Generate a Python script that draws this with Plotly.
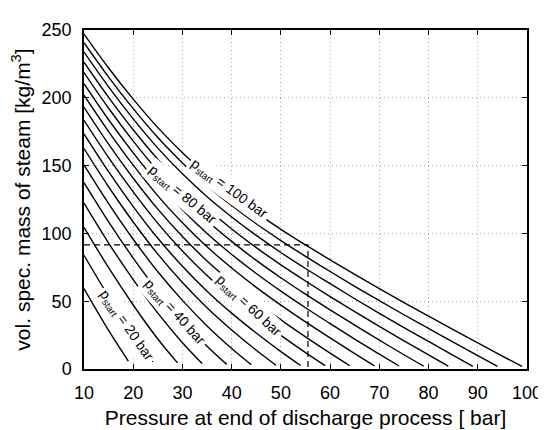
import plotly.graph_objects as go

# ---- data ----
p_start_values = [20, 25, 30, 35, 40, 45, 50, 55, 60, 65, 70, 75, 80, 85, 90, 95, 100]
p_end_grid = [10, 15, 20, 25, 30, 35, 40, 45, 50, 55, 60, 65, 70, 75, 80, 85, 90, 95]

# vol. spec. steam mass [kg/m^3] at p_end = 10, 15, ... and at the last point p_start - 1
m_p20 = [59.3, 28.4, 5.8]
m_p25 = [83.9, 53.5, 25.5, 5.2]
m_p30 = [104.5, 74.7, 47.2, 22.1, 4.5]
m_p35 = [122.3, 92.9, 65.9, 41.2, 19.4, 4.0]
m_p40 = [137.4, 108.5, 81.8, 57.4, 36.0, 16.8, 3.4]
m_p45 = [150.5, 122.0, 95.7, 71.7, 50.6, 31.7, 15.1, 3.1]
m_p50 = [162.6, 134.4, 108.4, 84.7, 63.8, 45.2, 28.8, 13.8, 2.8]
m_p55 = [173.4, 145.5, 119.8, 96.4, 75.8, 57.4, 41.2, 26.5, 12.8, 2.6]
m_p60 = [183.4, 155.9, 130.6, 107.4, 87.0, 68.9, 52.9, 38.3, 24.8, 12.1, 2.5]
m_p65 = [193.0, 165.8, 140.7, 117.9, 97.7, 79.7, 64.0, 49.5, 36.2, 23.7, 11.7, 2.4]
m_p70 = [201.9, 175.1, 150.3, 127.7, 107.8, 90.1, 74.5, 60.2, 47.1, 34.7, 22.9, 11.3, 2.3]
m_p75 = [210.4, 183.8, 159.4, 137.1, 117.4, 99.9, 84.5, 70.4, 57.4, 45.2, 33.5, 22.0, 10.9, 2.2]
m_p80 = [218.6, 192.3, 168.1, 146.1, 126.6, 109.3, 94.1, 80.1, 67.3, 55.2, 43.6, 32.3, 21.3, 10.5, 2.1]
m_p85 = [226.2, 200.3, 176.4, 154.6, 135.4, 118.3, 103.3, 89.5, 76.8, 64.9, 53.4, 42.3, 31.4, 20.8, 10.4, 2.1]
m_p90 = [233.7, 208.1, 184.5, 162.9, 143.9, 127.0, 112.1, 98.5, 85.9, 74.1, 62.9, 51.8, 41.0, 30.5, 20.3, 10.0, 2.0]
m_p95 = [240.6, 215.3, 192.0, 170.7, 152.0, 135.2, 120.6, 107.1, 94.7, 83.1, 71.9, 61.0, 50.4, 40.0, 29.9, 19.8, 9.9, 2.0]
m_p100 = [247, 222, 199, 178, 159.5, 143, 128.5, 115.3, 103, 91.5, 80.5, 69.8, 59.3, 49, 39, 29, 19.3, 9.5, 1.9]

curves = [m_p20, m_p25, m_p30, m_p35, m_p40, m_p45, m_p50, m_p55, m_p60,
          m_p65, m_p70, m_p75, m_p80, m_p85, m_p90, m_p95, m_p100]

# example read-off (dashed)
example_x = [10, 55.5, 55.5]
example_y = [91.5, 91.5, 0]

# inline curve labels: text, position, angle
label_text = ["100", "80", "60", "40", "20"]
label_x = [39.5, 30.0, 43.4, 28.3, 18.7]
label_y = [133.0, 128.5, 46.4, 41.8, 31.9]
label_angle = [36, 40, 43, 48, 55]

x_ticks = [10, 20, 30, 40, 50, 60, 70, 80, 90, 100]
y_ticks = [0, 50, 100, 150, 200, 250]

FONT = "Liberation Sans, Arial, Helvetica, sans-serif"

fig = go.Figure()

for p, m in zip(p_start_values, curves):
    xs = [g for g in p_end_grid if g <= p - 5] + [p - 1]
    fig.add_trace(go.Scatter(
        x=xs, y=m, mode="lines",
        line=dict(color="black", width=1.4, shape="spline", smoothing=1.0),
        showlegend=False, hoverinfo="skip"))

fig.add_trace(go.Scatter(
    x=example_x, y=example_y, mode="lines",
    line=dict(color="black", width=1.2, dash="6px,4px"),
    showlegend=False, hoverinfo="skip"))

for t, lx, ly, ang in zip(label_text, label_x, label_y, label_angle):
    fig.add_annotation(
        x=lx, y=ly, xref="x", yref="y",
        text="p<sub>start</sub> = " + t + " bar",
        showarrow=False, textangle=ang,
        font=dict(family=FONT, size=14, color="black"),
        bgcolor="white", borderpad=2)

axis_common = dict(
    showline=True, linecolor="black", linewidth=1.5, mirror="ticks",
    ticks="inside", ticklen=5, tickcolor="black", tickwidth=1,
    showgrid=True, gridcolor="#a8a8a8", gridwidth=1, griddash="1px,3px",
    zeroline=False, tickfont=dict(family=FONT, size=18, color="black"),
    ticklabelstandoff=7,
)

fig.update_xaxes(
    range=[10, 100], tickvals=x_ticks, ticktext=[str(v) for v in x_ticks],
    title=dict(text="Pressure at end of discharge process [ bar]",
               font=dict(family=FONT, size=21, color="black"), standoff=8),
    **axis_common)
fig.update_yaxes(
    range=[0, 250], tickvals=y_ticks, ticktext=[str(v) for v in y_ticks],
    title=dict(text="vol. spec. mass of steam [kg/m<sup>3</sup>]",
               font=dict(family=FONT, size=21, color="black"), standoff=6),
    **axis_common)

fig.update_layout(
    width=546, height=430,
    margin=dict(l=76, r=17, t=16, b=57),
    paper_bgcolor="white", plot_bgcolor="white",
    showlegend=False,
)

fig.write_html("out.html")
